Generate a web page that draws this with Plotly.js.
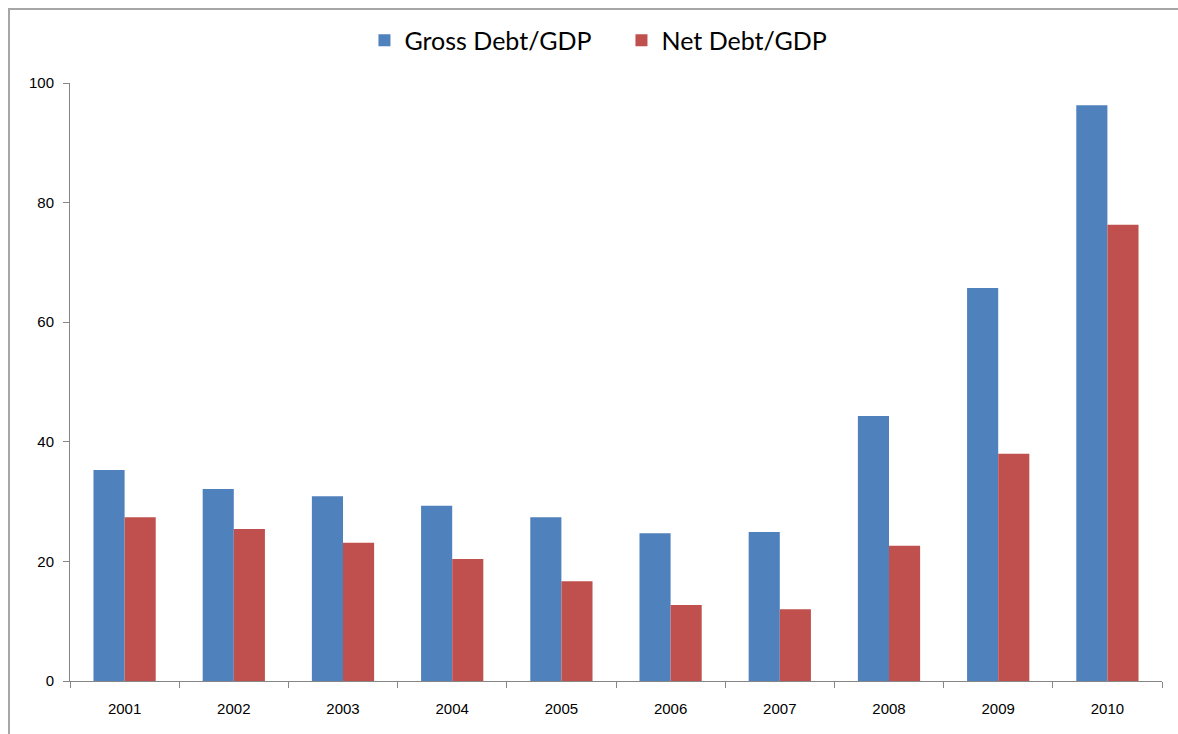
<!DOCTYPE html>
<html>
<head>
<meta charset="utf-8">
<script src="https://cdn.plot.ly/plotly-3.0.1.min.js"></script>
<style>
html,body{margin:0;padding:0;background:#fff;overflow:hidden;}
#chart{position:absolute;left:0;top:0;width:1178px;height:734px;}
#frame{position:absolute;left:8px;top:8px;width:1180px;height:740px;border:2px solid #a6a6a6;box-sizing:border-box;pointer-events:none;}
</style>
</head>
<body>
<div id="chart"></div>
<div id="frame"></div>
<script>
const years = ["2001","2002","2003","2004","2005","2006","2007","2008","2009","2010"];
const grossDebt = [35.3, 32.1, 30.9, 29.3, 27.4, 24.7, 24.9, 44.3, 65.7, 96.3];
const netDebt = [27.4, 25.4, 23.1, 20.4, 16.7, 12.7, 12.0, 22.6, 38.0, 76.3];
const yTicks = [0, 20, 40, 60, 80, 100];

const data = [
  {type:'bar', name:'Gross Debt/GDP', x:years, y:grossDebt, marker:{color:'#4f81bd'}},
  {type:'bar', name:'Net Debt/GDP', x:years, y:netDebt, marker:{color:'#c0504d'}}
];
const layout = {
  width:1178, height:734,
  margin:{l:70, r:16, t:83, b:53, autoexpand:false},
  paper_bgcolor:'#fff', plot_bgcolor:'#fff',
  barmode:'group', bargap:0.43, bargroupgap:0,
  font:{family:'Liberation Sans, Arial, sans-serif', color:'#000'},
  showlegend:true,
  legend:{orientation:'h', x:0.505, xanchor:'center', y:1.071, yanchor:'middle',
    font:{size:25, family:'Lato, Liberation Sans, sans-serif'}, itemwidth:30,
    entrywidth:212, entrywidthmode:'pixels'},
  xaxis:{type:'category', showline:true, linecolor:'#868686', linewidth:1,
    ticks:'outside', tickson:'boundaries', ticklen:6, tickcolor:'#868686',
    tickfont:{size:15}, showgrid:false, zeroline:false, ticklabelstandoff:14},
  yaxis:{range:[0,100], tickvals:yTicks, ticktext:yTicks.map(String), showline:true, linecolor:'#868686', linewidth:1,
    ticks:'outside', ticklen:6, tickcolor:'#868686', tickfont:{size:15},
    showgrid:false, zeroline:false, ticklabelstandoff:6}
};
Plotly.newPlot('chart', data, layout, {displayModeBar:false, staticPlot:true});
</script>
</body>
</html>
